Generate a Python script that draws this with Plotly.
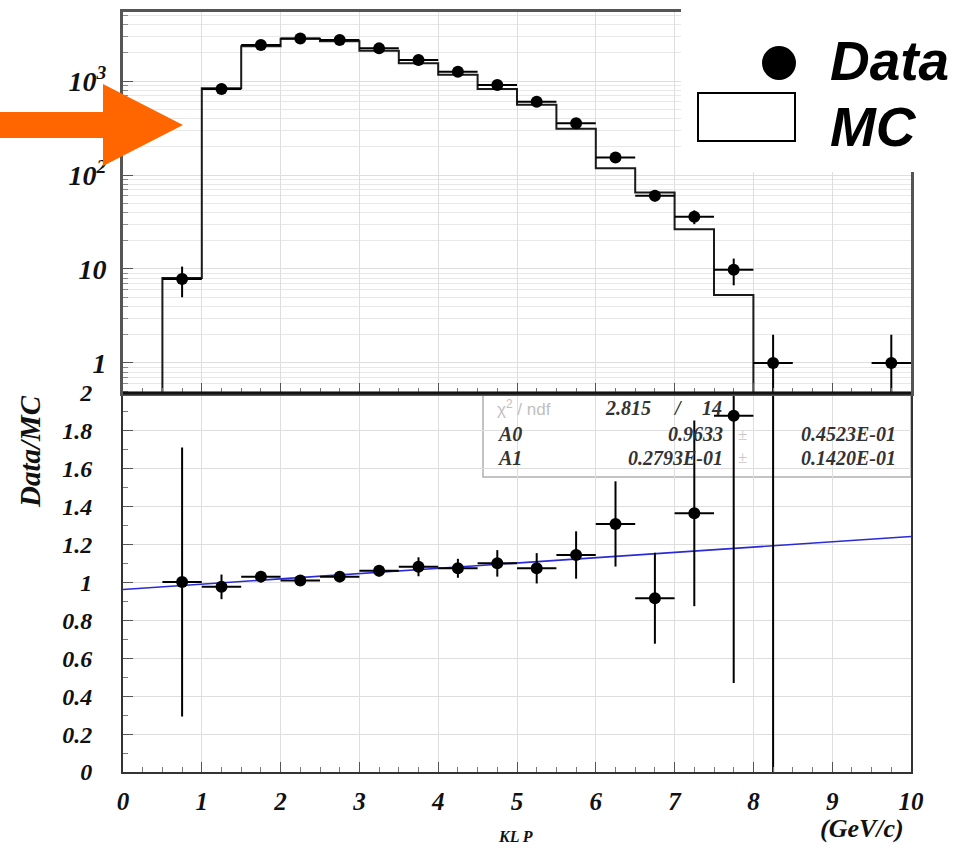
import plotly.graph_objects as go

# ---------------- data ----------------
bin_centers = [0.75, 1.25, 1.75, 2.25, 2.75, 3.25, 3.75, 4.25, 4.75, 5.25,
               5.75, 6.25, 6.75, 7.25, 7.75, 8.25, 9.75]
data_counts = [7.8, 822, 2415, 2845, 2730, 2228, 1671, 1256, 906, 603,
               355, 154, 60, 36, 9.8, 1, 1]
data_err_up = [2.8, 29, 49, 53, 52, 47, 41, 35, 30, 25, 19, 12, 7.7, 6, 3.1, 1, 1]
data_err_dn = [2.8, 29, 49, 53, 52, 47, 41, 35, 30, 25, 19, 12, 7.7, 6, 3.1, 0.999, 0.999]
half_bin = [0.25] * 17

mc_edges = [0.5, 0.5, 1.0, 1.5, 2.0, 2.5, 3.0, 3.5, 4.0, 4.5, 5.0, 5.5,
            6.0, 6.5, 7.0, 7.5, 8.0, 8.0]
mc_counts = [0.01, 8, 841, 2342, 2817, 2648, 2098, 1543, 1168, 823, 561,
             310, 118, 65, 26.5, 5.3, 5.3, 0.01]

ratio_x = [0.75, 1.25, 1.75, 2.25, 2.75, 3.25, 3.75, 4.25, 4.75, 5.25,
           5.75, 6.25, 6.75, 7.25, 7.75, 8.25]
ratio = [1.003, 0.977, 1.031, 1.01, 1.031, 1.062, 1.083, 1.075, 1.101, 1.075,
         1.145, 1.309, 0.917, 1.365, 1.88, 5.0]
ratio_err = [0.71, 0.065, 0.03, 0.025, 0.025, 0.03, 0.05, 0.05, 0.07, 0.08,
             0.125, 0.225, 0.24, 0.49, 1.41, 6.0]

fit_A0 = 0.9633
fit_A1 = 0.02793
fit_x = [0, 10]

x_ticks = [0, 1, 2, 3, 4, 5, 6, 7, 8, 9, 10]
top_tickvals = [1, 10, 100, 1000]
top_ticktext = ["1", "10", "10<sup>2</sup>", "10<sup>3</sup>"]
ratio_ticks = [0, 0.2, 0.4, 0.6, 0.8, 1, 1.2, 1.4, 1.6, 1.8, 2]
ratio_ticktext = ["0", "0.2", "0.4", "0.6", "0.8", "1", "1.2", "1.4", "1.6", "1.8", "2"]

# ---------------- geometry helpers ----------------
W, H = 962, 849
L, R, T, B = 123, 911, 12, 772
MID = 393


def px(x):
    return (x - L) / (R - L)


def py(y):
    return (B - y) / (B - T)


SERIF = "Liberation Serif"
SANS = "Liberation Sans"
split = py(MID)

fig = go.Figure()

# MC histogram (top)
fig.add_trace(go.Scatter(x=mc_edges, y=mc_counts, mode="lines", line_shape="hv",
                         line=dict(color="#1a1a1a", width=2), xaxis="x2", yaxis="y2",
                         showlegend=False, hoverinfo="skip"))
# Data points (top)
fig.add_trace(go.Scatter(x=bin_centers, y=data_counts, mode="markers",
                         marker=dict(color="black", size=12),
                         error_y=dict(type="data", array=data_err_up, arrayminus=data_err_dn,
                                      color="black", thickness=2, width=0),
                         error_x=dict(type="data", array=half_bin, color="black",
                                      thickness=2, width=0),
                         xaxis="x2", yaxis="y2", showlegend=False))

# Fit line (bottom)
fig.add_trace(go.Scatter(x=fit_x, y=[fit_A0 + fit_A1 * v for v in fit_x], mode="lines",
                         line=dict(color="#2a2ad8", width=1.6), xaxis="x", yaxis="y",
                         showlegend=False))
# Ratio points (bottom)
fig.add_trace(go.Scatter(x=ratio_x, y=ratio, mode="markers",
                         marker=dict(color="black", size=12),
                         error_y=dict(type="data", array=ratio_err, color="black",
                                      thickness=2, width=0),
                         error_x=dict(type="data", array=[0.25] * len(ratio_x),
                                      color="black", thickness=2, width=0),
                         xaxis="x", yaxis="y", showlegend=False))

grid_c = "#dedede"
fig.update_layout(
    width=W, height=H,
    margin=dict(l=L, r=W - R, t=T, b=H - B, pad=0),
    paper_bgcolor="white", plot_bgcolor="white",
    xaxis=dict(domain=[0, 1], range=[0, 10], tickvals=x_ticks,
               ticktext=[str(v) for v in x_ticks], automargin=False,
               tickfont=dict(family=SERIF, size=25, color="#111", style="italic", weight="bold"),
               showline=True, linecolor="#333", linewidth=2, mirror=True,
               ticks="inside", ticklen=10, tickcolor="#555",
               minor=dict(dtick=0.25, ticks="inside", ticklen=5, tickcolor="#777", showgrid=False),
               showgrid=True, gridcolor=grid_c, zeroline=False, anchor="y",
               ticklabelstandoff=6),
    yaxis=dict(domain=[0, split], range=[0, 2], tickvals=ratio_ticks, ticktext=ratio_ticktext,
               automargin=False,
               tickfont=dict(family=SERIF, size=24, color="#111", style="italic", weight="bold"),
               showline=True, linecolor="#333", linewidth=2, mirror=True,
               ticks="inside", ticklen=10, tickcolor="#555",
               minor=dict(dtick=0.1, ticks="inside", ticklen=5, tickcolor="#777", showgrid=False),
               showgrid=True, gridcolor=grid_c, zeroline=False, anchor="x",
               ticklabelstandoff=24),
    xaxis2=dict(domain=[0, 1], range=[0, 10], matches="x", showticklabels=False,
                automargin=False,
                showline=True, linecolor="#555", linewidth=3, mirror=True,
                ticks="inside", ticklen=10, tickcolor="#555", tickvals=x_ticks,
                minor=dict(dtick=0.25, ticks="inside", ticklen=5, tickcolor="#777", showgrid=False),
                showgrid=True, gridcolor=grid_c, zeroline=False, anchor="y2"),
    yaxis2=dict(domain=[split, 1], type="log", range=[-0.32, 3.735],
                tickvals=top_tickvals, ticktext=top_ticktext, automargin=False,
                tickfont=dict(family=SERIF, size=28, color="#111", style="italic", weight="bold"),
                showline=True, linecolor="#555", linewidth=3, mirror=True,
                ticks="inside", ticklen=10, tickcolor="#555",
                minor=dict(ticks="inside", ticklen=5, tickcolor="#888", showgrid=True,
                           gridcolor="#e8e8e8", dtick="D1"),
                showgrid=True, gridcolor=grid_c, zeroline=False, anchor="x2",
                ticklabelstandoff=8),
)

shapes = []
annos = []

# divider line between panels
shapes.append(dict(type="line", xref="paper", yref="paper", x0=0, x1=1, y0=split, y1=split,
                   line=dict(color="#111", width=3), layer="above"))

# fit statistics box
shapes.append(dict(type="rect", xref="paper", yref="paper", x0=px(483), x1=px(911),
                   y0=py(477), y1=py(MID), line=dict(color="#b0b0b0", width=1.5), layer="below"))
stat_font = dict(family=SERIF, size=20, color="#333", style="italic", weight="bold")
annos.append(dict(text="χ<sup>2</sup> / ndf", x=px(495), y=py(408), xanchor="left", yanchor="middle",
                  font=dict(family=SANS, size=17, color="#c0c0c0")))
annos.append(dict(text="2.815", x=px(653), y=py(408), xanchor="right", yanchor="middle", font=stat_font))
annos.append(dict(text="/", x=px(678), y=py(408), xanchor="center", yanchor="middle", font=stat_font))
annos.append(dict(text="14", x=px(724), y=py(408), xanchor="right", yanchor="middle", font=stat_font))
annos.append(dict(text="A0", x=px(495), y=py(434), xanchor="left", yanchor="middle", font=stat_font))
annos.append(dict(text="0.9633", x=px(725), y=py(434), xanchor="right", yanchor="middle", font=stat_font))
annos.append(dict(text="±", x=px(742), y=py(434), xanchor="center", yanchor="middle",
                  font=dict(family=SERIF, size=17, color="#c8c8c8")))
annos.append(dict(text="0.4523E-01", x=px(898), y=py(434), xanchor="right", yanchor="middle", font=stat_font))
annos.append(dict(text="A1", x=px(495), y=py(458), xanchor="left", yanchor="middle", font=stat_font))
annos.append(dict(text="0.2793E-01", x=px(725), y=py(458), xanchor="right", yanchor="middle", font=stat_font))
annos.append(dict(text="±", x=px(742), y=py(458), xanchor="center", yanchor="middle",
                  font=dict(family=SERIF, size=17, color="#c8c8c8")))
annos.append(dict(text="0.1420E-01", x=px(898), y=py(458), xanchor="right", yanchor="middle", font=stat_font))

# legend (white box covering top-right)
shapes.append(dict(type="rect", xref="paper", yref="paper", x0=px(681), x1=px(970),
                   y0=py(172), y1=py(-10), fillcolor="white", line=dict(width=0), layer="above"))
shapes.append(dict(type="circle", xref="paper", yref="paper", x0=px(762), x1=px(796),
                   y0=py(80), y1=py(46), fillcolor="black", line=dict(width=0), layer="above"))
shapes.append(dict(type="rect", xref="paper", yref="paper", x0=px(698), x1=px(795),
                   y0=py(141), y1=py(93), fillcolor="white", line=dict(color="black", width=2),
                   layer="above"))
annos.append(dict(text="Data", x=px(828), y=py(61), xanchor="left", yanchor="middle",
                  font=dict(family=SANS, size=55, color="black", style="italic", weight="bold")))
annos.append(dict(text="MC", x=px(828), y=py(127), xanchor="left", yanchor="middle",
                  font=dict(family=SANS, size=55, color="black", style="italic", weight="bold")))

# orange arrow
pts = [(-5, 112), (103, 112), (103, 84), (183, 125), (103, 166), (103, 138), (-5, 138)]
path = "M " + " L ".join(f"{px(a):.5f},{py(b):.5f}" for a, b in pts) + " Z"
shapes.append(dict(type="path", xref="paper", yref="paper", path=path,
                   fillcolor="#ff6600", line=dict(width=0), layer="above"))

# axis titles
annos.append(dict(text="Data/MC", x=px(30), y=py(452), xanchor="center", yanchor="middle",
                  textangle=-90,
                  font=dict(family=SERIF, size=29, color="#111", style="italic", weight="bold")))
annos.append(dict(text="KL P", x=px(515), y=py(836), xanchor="center", yanchor="middle",
                  font=dict(family=SERIF, size=16, color="#111", style="italic", weight="bold")))
annos.append(dict(text="(GeV/c)", x=px(862), y=py(828), xanchor="center", yanchor="middle",
                  font=dict(family=SERIF, size=26, color="#111", style="italic", weight="bold")))

for a in annos:
    a.update(xref="paper", yref="paper", showarrow=False)

fig.update_layout(shapes=shapes, annotations=annos)

fig.write_html("out.html")
